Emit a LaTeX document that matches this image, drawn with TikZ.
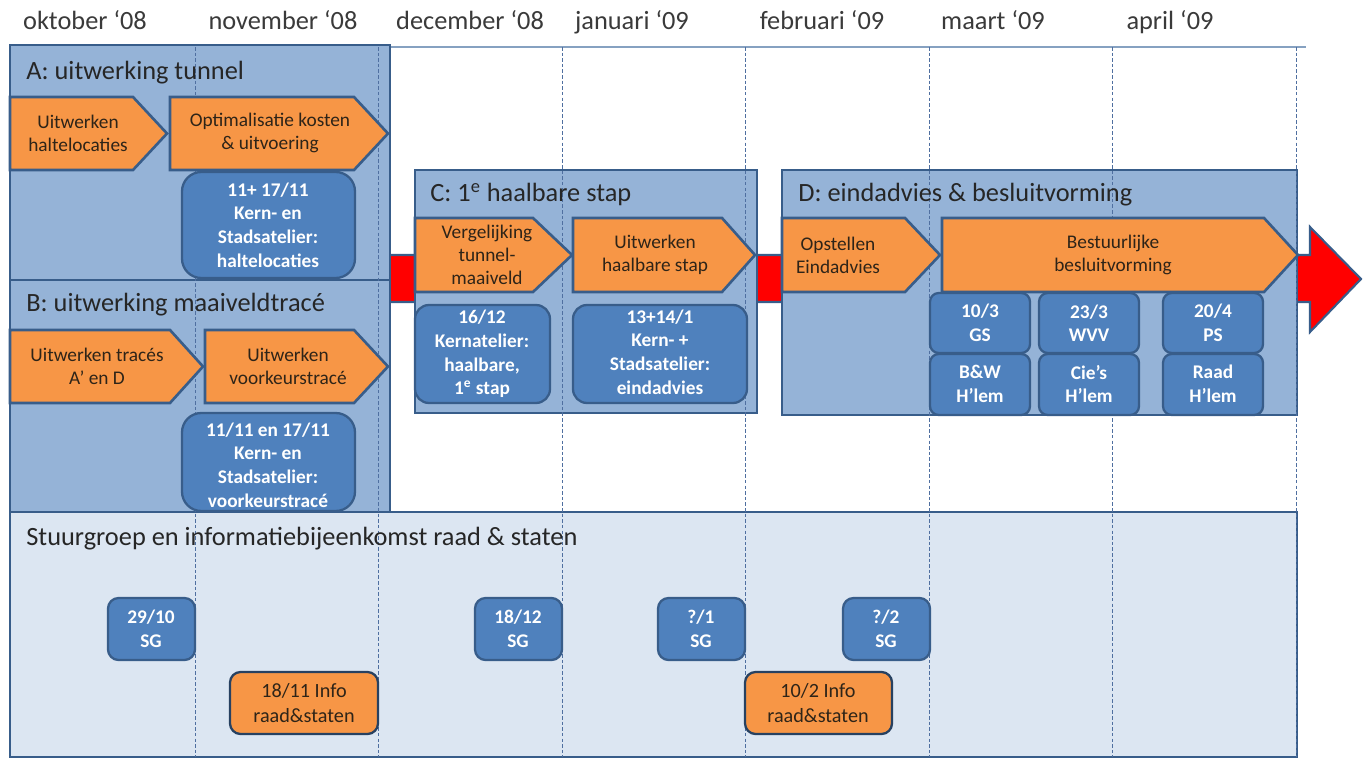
\documentclass[tikz,border=0pt]{standalone}
\usepackage{fontspec}
\setmainfont{Carlito}
\definecolor{bord}{HTML}{385D8A}
\definecolor{panelc}{HTML}{95B3D7}
\definecolor{lightc}{HTML}{DCE6F2}
\definecolor{bluc}{HTML}{4F81BD}
\definecolor{orgc}{HTML}{F79646}
\definecolor{txtc}{HTML}{2E2418}
\definecolor{monthc}{HTML}{3A3A3A}
\definecolor{dashc}{HTML}{4F6FA0}
\newcommand\mychev[6]{%
  \draw[chev] (#1,#4) -- (#3,#4) -- (#2,{(#4+#5)/2}) -- (#3,#5) -- (#1,#5) -- cycle;
}
\begin{document}
\begin{tikzpicture}[x=0.02cm,y=-0.02cm,
  panel/.style={draw=bord, line width=1.6pt, fill=panelc},
  chev/.style={draw=bord, line width=1.5pt, fill=orgc, line join=miter},
  bbox/.style={draw=bord, line width=1.3pt, fill=bluc},
  obox/.style={draw=bord!70!black, line width=1.3pt, fill=orgc, rounded corners=6pt},
  ctext/.style={font=\fontsize{11}{13}\selectfont, text=txtc, align=center, inner sep=0pt},
  btext/.style={font=\bfseries\fontsize{11}{13.4}\selectfont, text=white, align=center, inner sep=0pt},
  month/.style={font=\fontsize{15}{18}\selectfont, text=monthc, anchor=base, inner sep=0pt},
  ttl/.style={font=\fontsize{15}{18}\selectfont, text=black!85, anchor=base west, inner sep=0pt},
  vdash/.style={draw=dashc, line width=0.5pt, dash pattern=on 2pt off 1.2pt},
]
\useasboundingbox (0,0) rectangle (1366,760);
\fill[white] (0,0) rectangle (1366,760);

% month labels
\node[month] (m1) at (85,30) {oktober ‘08};
\node[month] (m2) at (283,30) {november ‘08};
\node[month] (m3) at (470,30) {december ‘08};
\node[month] (m4) at (632,30) {januari ‘09};
\node[month] (m5) at (822,30) {februari ‘09};
\node[month] (m6) at (993,30) {maart ‘09};
\node[month] (m7) at (1170,30) {april ‘09};

% top axis line
\draw[draw=panelc!90!black, line width=1.2pt] (10,47) -- (1306,47);

% big red arrow behind the panels
\draw[draw=bord, line width=1.2pt, fill=red, line join=miter]
  (385,255) -- (1310,255) -- (1310,227) -- (1361,279) -- (1310,332) -- (1310,302) -- (385,302) -- cycle;

% panels
\draw[panel] (10,45) rectangle (390,280);
\draw[panel] (10,280) rectangle (390,512);
\draw[panel] (415,170) rectangle (757,413);
\draw[panel] (782,170) rectangle (1297,415);
\draw[draw=bord, line width=1.6pt, fill=lightc] (10,512) rectangle (1297,757);

% dashed month separators
\foreach \xx in {195,378,562,745,929,1112,1296}
  \draw[vdash] (\xx,47) -- (\xx,757);

% panel titles
\node[ttl] (ta) at (26,80) {A: uitwerking tunnel};
\node[ttl] (tb) at (26,312) {B: uitwerking maaiveldtracé};
\node[ttl] (tc) at (430,202) {C: 1\textsuperscript{e} haalbare stap};
\node[ttl] (td) at (798,202) {D: eindadvies \& besluitvorming};
\node[ttl] (te) at (26,545) {Stuurgroep en informatiebijeenkomst raad \& staten};

% chevrons
\mychev{10}{167}{133}{97}{170}{}
\mychev{170}{388}{354}{97}{170}{}
\mychev{10}{203}{170}{330}{403}{}
\mychev{205}{388}{354}{330}{403}{}
\mychev{415}{572}{533}{218}{292}{}
\mychev{573}{755}{722}{218}{292}{}
\mychev{782}{940}{905}{218}{292}{}
\mychev{942}{1298}{1264}{218}{292}{}

\node[ctext] (a1) at (78,133) {Uitwerken\\haltelocaties};
\node[ctext] (a2) at (270,133) {Optimalisatie kosten\\\& uitvoering};
\node[ctext] (b1) at (97,366) {Uitwerken tracés\\A’ en D};
\node[ctext] (b2) at (288,366) {Uitwerken\\voorkeurstracé};
\node[ctext] (c1) at (487,255) {Vergelijking\\tunnel-\\maaiveld};
\node[ctext] (c2) at (655,255) {Uitwerken\\haalbare stap};
\node[ctext] (d1) at (838,255) {Opstellen\\Eindadvies};
\node[ctext] (d2) at (1113,255) {Bestuurlijke\\besluitvorming};

% blue rounded boxes in the panels
\draw[bbox, rounded corners=11pt] (182,172) rectangle (355,278);
\node[btext] (ab) at (268,225) {11+ 17/11\\Kern- en\\Stadsatelier:\\haltelocaties};
\draw[bbox, rounded corners=11pt] (182,413) rectangle (355,511);
\node[btext] (bb) at (268,465) {11/11 en 17/11\\Kern- en\\Stadsatelier:\\voorkeurstracé};
\draw[bbox, rounded corners=8pt] (415,305) rectangle (550,403);
\node[btext] (cb1) at (482,354) {16/12\\Kernatelier:\\haalbare,\\1\textsuperscript{e} stap};
\draw[bbox, rounded corners=8pt] (573,305) rectangle (747,403);
\node[btext] (cb2) at (660,352) {13+14/1\\Kern- +\\Stadsatelier:\\eindadvies};

\foreach \xa/\xb [count=\i] in {930/1030,1039/1139,1163/1263}{
  \draw[bbox, rounded corners=5pt] (\xa,293) rectangle (\xb,353);
  \draw[bbox, rounded corners=5pt] (\xa,354) rectangle (\xb,415);
}
\node[btext] (g1) at (980,323) {10/3\\GS};
\node[btext] (g2) at (1089,323) {23/3\\WVV};
\node[btext] (g3) at (1213,323) {20/4\\PS};
\node[btext] (h1) at (980,384) {B\&W\\H’lem};
\node[btext] (h2) at (1089,384) {Cie’s\\H’lem};
\node[btext] (h3) at (1213,384) {Raad\\H’lem};

% stuurgroep boxes
\foreach \xa/\xb in {108/195,475/562,658/745,843/930}
  \draw[bbox, rounded corners=6pt] (\xa,598) rectangle (\xb,660);
\node[btext] (s1) at (151,629) {29/10\\SG};
\node[btext] (s2) at (518,629) {18/12\\SG};
\node[btext] (s3) at (701,629) {?/1\\SG};
\node[btext] (s4) at (886,629) {?/2\\SG};

\draw[obox] (230,672) rectangle (378,734);
\node[ctext, font=\fontsize{11.5}{14}\selectfont] (i1) at (304,703) {18/11 Info\\raad\&staten};
\draw[obox] (745,672) rectangle (892,734);
\node[ctext, font=\fontsize{11.5}{14}\selectfont] (i2) at (818,703) {10/2 Info\\raad\&staten};
\end{tikzpicture}
\end{document}
